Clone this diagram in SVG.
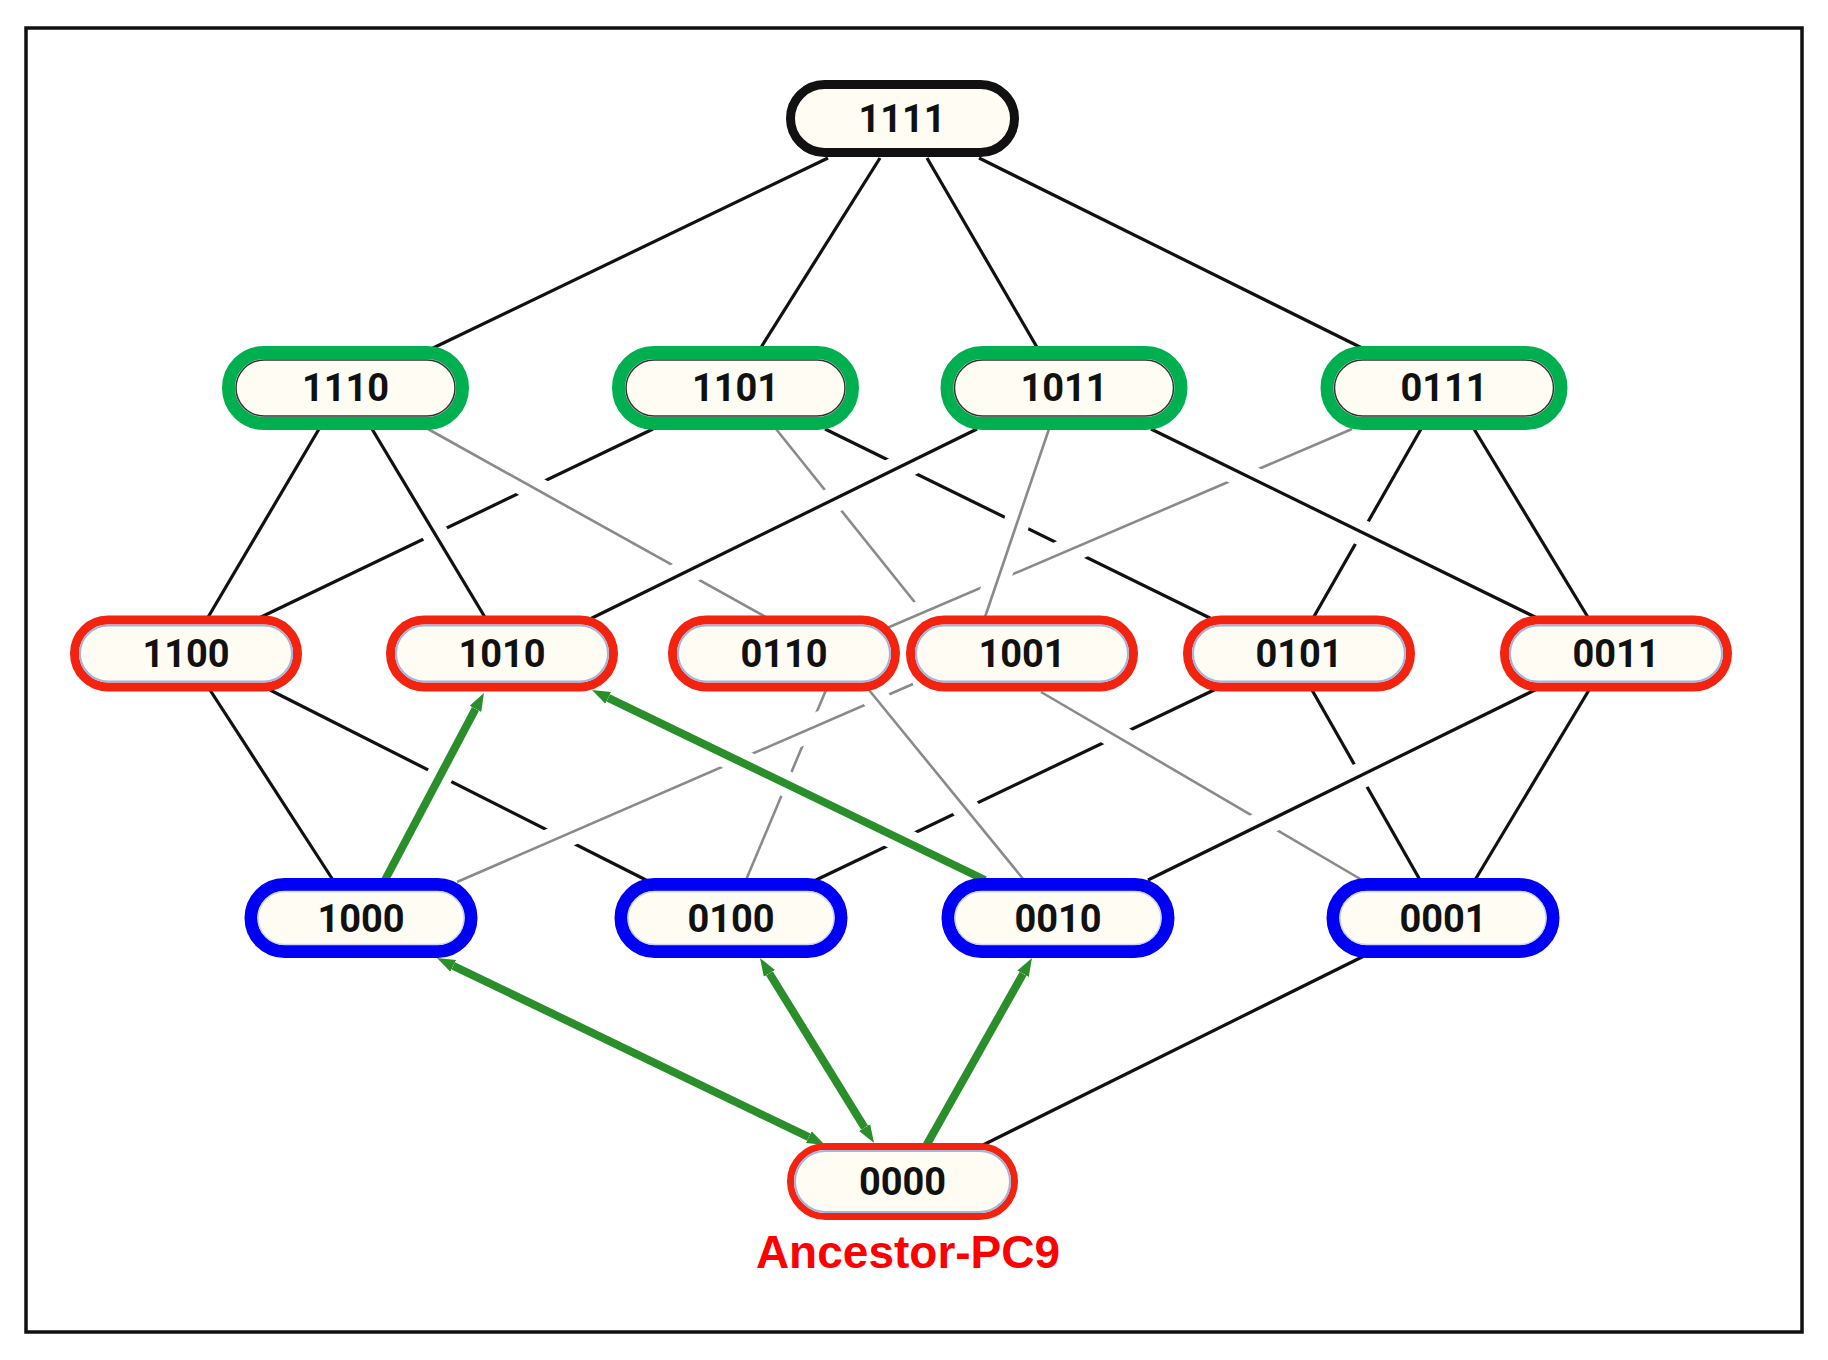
<svg xmlns="http://www.w3.org/2000/svg" width="1828" height="1360" viewBox="0 0 1828 1360">
<style>
.frame{fill:#fff;stroke:#111;stroke-width:3.5}
.halo{stroke:#fff;stroke-width:26;fill:none}
.k{stroke:#111;stroke-width:3.2;fill:none}
.g{stroke:#8a8a8a;stroke-width:2.6;fill:none}
.gr{stroke:#2a8f2a;stroke-width:8;fill:none}
.pill{fill:#fffcf3}
.nblack{stroke:#111;stroke-width:9}
.ngreen{stroke:#00b050;stroke-width:13}
.nred{stroke:#f2230f;stroke-width:9}
.nred2{stroke:#f2230f;stroke-width:7}
.nblue{stroke:#0000f5;stroke-width:13}
.inG{fill:none;stroke:#333;stroke-width:1.5}
.inR{fill:none;stroke:#9fb6e0;stroke-width:2}
.inB{fill:none;stroke:#c8d4f0;stroke-width:1.5}
.lbl{font-family:Roboto,"Liberation Sans",sans-serif;font-weight:bold;font-size:38px;fill:#111;text-anchor:middle}
.anc{font-family:"Liberation Sans",Arial,sans-serif;font-weight:bold;font-size:46px;fill:#ff0000;text-anchor:middle}
</style>
<defs>
<marker id="ah" markerUnits="userSpaceOnUse" markerWidth="20" markerHeight="14" viewBox="0 -7 20 14" refX="0" refY="0" orient="auto-start-reverse">
<path d="M0,-6.5 L18,0 L0,6.5 z" fill="#2a8f2a"/>
</marker>
</defs>
<rect class="frame" x="26" y="28" width="1776" height="1304"/>
<g id="connectors">
<line class="k" x1="828" y1="158" x2="431" y2="349"/>
<line class="k" x1="880" y1="158" x2="760" y2="349"/>
<line class="k" x1="927" y1="158" x2="1038" y2="349"/>
<line class="k" x1="979" y1="158" x2="1364" y2="349"/>
<line class="halo" x1="825" y1="431" x2="1212" y2="618"/><line class="k" x1="825" y1="429" x2="1214" y2="620"/>
<line class="halo" x1="651" y1="431" x2="261" y2="616"/><line class="k" x1="653" y1="429" x2="259" y2="618"/>
<line class="halo" x1="1420" y1="431" x2="1313" y2="618"/><line class="k" x1="1421" y1="429" x2="1312" y2="620"/>
<line class="halo" x1="777" y1="431" x2="927" y2="618"/><line class="g" x1="776" y1="429" x2="929" y2="620"/>
<line class="halo" x1="430" y1="431" x2="769" y2="618"/><line class="g" x1="428" y1="429" x2="771" y2="620"/>
<line class="halo" x1="1350" y1="430" x2="880" y2="631"/><line class="g" x1="1352" y1="429" x2="880" y2="631"/>
<line class="halo" x1="318" y1="431" x2="208" y2="616"/><line class="k" x1="319" y1="429" x2="207" y2="619"/>
<line class="halo" x1="373" y1="431" x2="485" y2="616"/><line class="k" x1="372" y1="429" x2="486" y2="619"/>
<line class="halo" x1="975" y1="431" x2="592" y2="618"/><line class="k" x1="977" y1="429" x2="590" y2="619"/>
<line class="halo" x1="1048" y1="431" x2="984" y2="618"/><line class="g" x1="1049" y1="429" x2="984" y2="620"/>
<line class="halo" x1="1153" y1="431" x2="1537" y2="618"/><line class="k" x1="1151" y1="429" x2="1539" y2="619"/>
<line class="halo" x1="1475" y1="431" x2="1588" y2="618"/><line class="k" x1="1474" y1="429" x2="1589" y2="619"/>
<line class="halo" x1="1216" y1="689" x2="816" y2="880"/><line class="k" x1="1216" y1="689" x2="816" y2="880"/>
<line class="halo" x1="270" y1="690" x2="646" y2="880"/><line class="k" x1="270" y1="690" x2="646" y2="880"/>
<line class="halo" x1="1041" y1="692" x2="1362" y2="880"/><line class="g" x1="1041" y1="692" x2="1362" y2="880"/>
<line class="halo" x1="1312" y1="690" x2="1420" y2="880"/><line class="k" x1="1312" y1="690" x2="1420" y2="880"/>
<line class="halo" x1="826" y1="690" x2="746" y2="880"/><line class="g" x1="826" y1="690" x2="746" y2="880"/>
<line class="halo" x1="913" y1="684" x2="457" y2="882"/><line class="g" x1="913" y1="684" x2="457" y2="882"/>
<line class="halo" x1="869" y1="690" x2="1024" y2="880"/><line class="g" x1="869" y1="690" x2="1024" y2="880"/>
<line class="halo" x1="210" y1="690" x2="333" y2="880"/><line class="k" x1="210" y1="690" x2="333" y2="880"/>
<line class="halo" x1="1537" y1="689" x2="1148" y2="880"/><line class="k" x1="1537" y1="689" x2="1148" y2="880"/>
<line class="halo" x1="1589" y1="690" x2="1475" y2="880"/><line class="k" x1="1589" y1="690" x2="1475" y2="880"/>
<line class="halo" x1="385" y1="878" x2="484" y2="693"/><line class="gr" x1="385" y1="880" x2="475.5" y2="708.9" marker-end="url(#ah)"/>
<line class="halo" x1="983" y1="879" x2="592" y2="690"/><line class="gr" x1="985" y1="880" x2="608.2" y2="697.8" marker-end="url(#ah)"/>
<line class="gr" x1="453.2" y1="965.8" x2="808.8" y2="1137.2" marker-start="url(#ah)" marker-end="url(#ah)"/>
<line class="gr" x1="769.4" y1="973.3" x2="864.6" y2="1127.7" marker-start="url(#ah)" marker-end="url(#ah)"/>
<line class="gr" x1="926" y1="1146" x2="1023.1" y2="973.7" marker-end="url(#ah)"/>
<line class="k" x1="1366" y1="955" x2="981" y2="1146"/>
</g>
<g id="n1111"><rect class="pill nblack" x="790.5" y="84.5" width="224" height="68" rx="34"/><text class="lbl" x="902" y="132">1111</text></g>
<g id="n1110"><rect class="pill ngreen" x="228.5" y="352.5" width="234" height="71" rx="35.5"/><rect class="inG" x="236" y="360" width="219" height="56" rx="28"/><text class="lbl" x="345.5" y="401">1110</text></g>
<g id="n1101"><rect class="pill ngreen" x="618.5" y="352.5" width="234" height="71" rx="35.5"/><rect class="inG" x="626" y="360" width="219" height="56" rx="28"/><text class="lbl" x="735.5" y="401">1101</text></g>
<g id="n1011"><rect class="pill ngreen" x="947" y="352.5" width="234" height="71" rx="35.5"/><rect class="inG" x="954.5" y="360" width="219" height="56" rx="28"/><text class="lbl" x="1064" y="401">1011</text></g>
<g id="n0111"><rect class="pill ngreen" x="1327" y="352.5" width="234" height="71" rx="35.5"/><rect class="inG" x="1334.5" y="360" width="219" height="56" rx="28"/><text class="lbl" x="1444" y="401">0111</text></g>
<g id="n1100"><rect class="pill nred" x="74.5" y="620" width="223" height="67" rx="33.5"/><rect class="inR" x="80" y="625.5" width="212" height="56" rx="28"/><text class="lbl" x="186" y="667">1100</text></g>
<g id="n1010"><rect class="pill nred" x="390.5" y="620" width="223" height="67" rx="33.5"/><rect class="inR" x="396" y="625.5" width="212" height="56" rx="28"/><text class="lbl" x="502" y="667">1010</text></g>
<g id="n0110"><rect class="pill nred" x="672.5" y="620" width="223" height="67" rx="33.5"/><rect class="inR" x="678" y="625.5" width="212" height="56" rx="28"/><text class="lbl" x="784" y="667">0110</text></g>
<g id="n1001"><rect class="pill nred" x="910.5" y="620" width="223" height="67" rx="33.5"/><rect class="inR" x="916" y="625.5" width="212" height="56" rx="28"/><text class="lbl" x="1022" y="667">1001</text></g>
<g id="n0101"><rect class="pill nred" x="1187.5" y="620" width="223" height="67" rx="33.5"/><rect class="inR" x="1193" y="625.5" width="212" height="56" rx="28"/><text class="lbl" x="1299" y="667">0101</text></g>
<g id="n0011"><rect class="pill nred" x="1504.5" y="620" width="223" height="67" rx="33.5"/><rect class="inR" x="1510" y="625.5" width="212" height="56" rx="28"/><text class="lbl" x="1616" y="667">0011</text></g>
<g id="n1000"><rect class="pill nblue" x="251" y="884.5" width="220" height="67" rx="33.5"/><rect class="inB" x="258" y="891.5" width="206" height="53" rx="26.5"/><text class="lbl" x="361" y="931.5">1000</text></g>
<g id="n0100"><rect class="pill nblue" x="621" y="884.5" width="220" height="67" rx="33.5"/><rect class="inB" x="628" y="891.5" width="206" height="53" rx="26.5"/><text class="lbl" x="731" y="931.5">0100</text></g>
<g id="n0010"><rect class="pill nblue" x="948" y="884.5" width="220" height="67" rx="33.5"/><rect class="inB" x="955" y="891.5" width="206" height="53" rx="26.5"/><text class="lbl" x="1058" y="931.5">0010</text></g>
<g id="n0001"><rect class="pill nblue" x="1333" y="884.5" width="220" height="67" rx="33.5"/><rect class="inB" x="1340" y="891.5" width="206" height="53" rx="26.5"/><text class="lbl" x="1443" y="931.5">0001</text></g>
<g id="n0000"><rect class="pill nred2" x="790.5" y="1146.5" width="224" height="70" rx="35"/><rect class="inR" x="795" y="1151" width="215" height="61" rx="30.5"/><text class="lbl" x="902.5" y="1195">0000</text></g>
<text class="anc" x="908" y="1268">Ancestor-PC9</text>
</svg>
